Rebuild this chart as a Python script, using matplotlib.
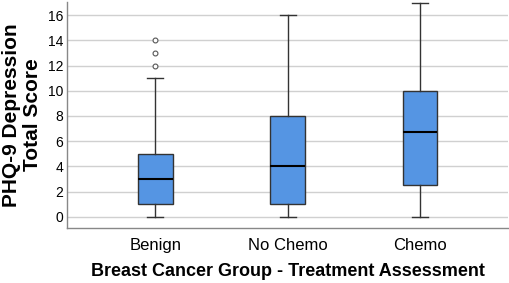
import matplotlib.pyplot as plt
import numpy as np

plt.rcParams['font.family'] = ['Liberation Sans', 'DejaVu Sans']

# Box statistics
groups = ['Benign', 'No Chemo', 'Chemo']
q1 = [1, 1, 2.5]
medians = [3, 4, 6.75]
q3 = [5, 8, 10]
whisker_low = [0, 0, 0]
whisker_high = [11, 16, 17]
outliers = [[12, 13, 14], [], []]

stats = []
for i, name in enumerate(groups):
    stats.append({'label': name, 'q1': q1[i], 'med': medians[i], 'q3': q3[i],
                  'whislo': whisker_low[i], 'whishi': whisker_high[i],
                  'fliers': outliers[i]})

fig, ax = plt.subplots(figsize=(5.1, 2.83), dpi=100)
fig.subplots_adjust(left=0.132, right=0.996, top=0.993, bottom=0.194)

edge = '#333333'
ax.bxp(stats, positions=[1, 2, 3], widths=0.26, patch_artist=True,
       boxprops=dict(facecolor='#5595e3', edgecolor=edge, linewidth=1.0),
       medianprops=dict(color='black', linewidth=1.5),
       whiskerprops=dict(color=edge, linewidth=1.0),
       capprops=dict(color=edge, linewidth=1.0),
       capwidths=0.12,
       flierprops=dict(marker='o', markersize=3.5, markerfacecolor='white',
                       markeredgecolor='#555555', markeredgewidth=0.8),
       zorder=3)

ax.set_ylim(-0.9, 17.05)
ax.set_xlim(0.335, 3.665)
ax.set_yticks(np.arange(0, 17, 2))
ax.yaxis.grid(True, color='#d0d0d0', linewidth=1.0, zorder=0)
ax.set_axisbelow(True)

for side in ['top', 'right']:
    ax.spines[side].set_visible(False)
for side in ['left', 'bottom']:
    ax.spines[side].set_color('#888888')
    ax.spines[side].set_linewidth(1.0)

ax.tick_params(axis='y', length=0, labelsize=10, pad=3)
ax.tick_params(axis='x', length=0, labelsize=12, pad=7)

ax.set_xlabel('Breast Cancer Group - Treatment Assessment', fontsize=13,
              fontweight='bold', labelpad=7)
ax.set_ylabel('PHQ-9 Depression\nTotal Score', fontsize=15,
              fontweight='bold', labelpad=4, linespacing=1.15)

fig.savefig('out.png', dpi=100)
